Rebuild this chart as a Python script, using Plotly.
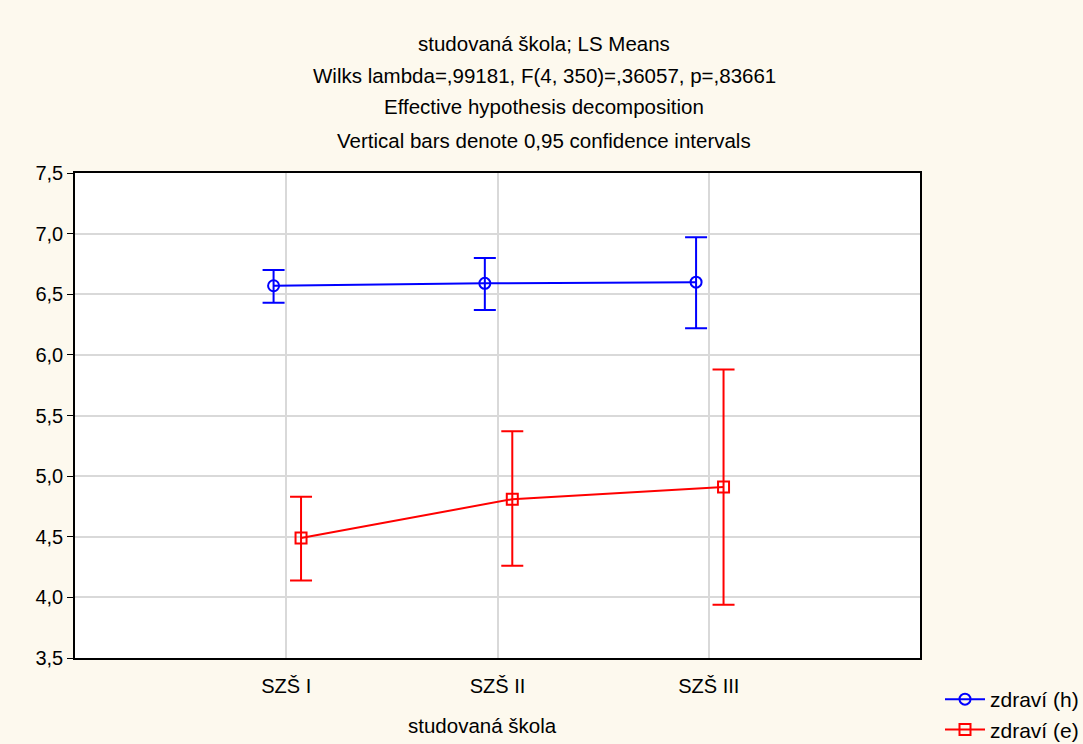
import plotly.graph_objects as go

categories = ["SZŠ I", "SZŠ II", "SZŠ III"]
h_mean = [6.57, 6.59, 6.60]
h_upper = [6.70, 6.80, 6.97]
h_lower = [6.43, 6.37, 6.22]
e_mean = [4.49, 4.81, 4.91]
e_upper = [4.83, 5.37, 5.88]
e_lower = [4.14, 4.26, 3.94]
series_names = ["zdraví (h)", "zdraví (e)"]
title_lines = [
    "studovaná škola; LS Means",
    "Wilks lambda=,99181, F(4, 350)=,36057, p=,83661",
    "Effective hypothesis decomposition",
    "Vertical bars denote 0,95 confidence intervals",
]
x_title = "studovaná škola"

pos = list(range(len(categories)))
h_x = [p - 0.06 for p in pos]
e_x = [p + 0.07 for p in pos]

fig = go.Figure()
fig.add_trace(go.Scatter(
    x=h_x, y=h_mean, mode="lines+markers", name=series_names[0],
    line=dict(color="#0000FF", width=2),
    marker=dict(symbol="circle-open", size=11, color="#0000FF", line=dict(width=2)),
    error_y=dict(type="data", symmetric=False,
                 array=[u - m for u, m in zip(h_upper, h_mean)],
                 arrayminus=[m - l for m, l in zip(h_mean, h_lower)],
                 color="#0000FF", thickness=2, width=11),
))
fig.add_trace(go.Scatter(
    x=e_x, y=e_mean, mode="lines+markers", name=series_names[1],
    line=dict(color="#FF0000", width=2),
    marker=dict(symbol="square-open", size=11, color="#FF0000", line=dict(width=2)),
    error_y=dict(type="data", symmetric=False,
                 array=[u - m for u, m in zip(e_upper, e_mean)],
                 arrayminus=[m - l for m, l in zip(e_mean, e_lower)],
                 color="#FF0000", thickness=2, width=11),
))

annotations = []
title_y_px = [43, 75, 106, 140]
for txt, ypx in zip(title_lines, title_y_px):
    annotations.append(dict(
        text=txt, xref="paper", yref="paper",
        x=(544 - 75) / 845, y=(658 - ypx) / 485,
        xanchor="center", yanchor="middle", showarrow=False,
        font=dict(size=20.5, color="#000000"),
    ))
annotations.append(dict(
    text=x_title, xref="paper", yref="paper",
    x=(482 - 75) / 845, y=(658 - 725) / 485,
    xanchor="center", yanchor="middle", showarrow=False,
    font=dict(size=20.5, color="#000000"),
))

fig.update_layout(
    width=1083, height=744,
    margin=dict(l=75, r=163, t=173, b=86, autoexpand=False),
    paper_bgcolor="#FDF9EE",
    plot_bgcolor="#FFFFFF",
    separators=", ",
    font=dict(family="Liberation Sans, Arial, sans-serif", size=20, color="#000000"),
    annotations=annotations,
    showlegend=True,
    legend=dict(x=(940 - 75) / 845, y=(658 - 679) / 485, xanchor="left", yanchor="top",
                bgcolor="rgba(0,0,0,0)", font=dict(size=21), tracegroupgap=0,
                itemwidth=40),
)
fig.update_xaxes(
    range=[-1, 3], tickvals=pos, ticktext=categories,
    showgrid=True, gridcolor="#D9D9D9", gridwidth=2,
    showline=True, linecolor="#000000", linewidth=1.5, mirror=True,
    ticks="", zeroline=False, tickfont=dict(size=20), ticklabelstandoff=9,
)
fig.update_yaxes(
    range=[3.5, 7.5], dtick=0.5, tickformat=".1f",
    showgrid=True, gridcolor="#D9D9D9", gridwidth=2,
    showline=True, linecolor="#000000", linewidth=1.5, mirror=True,
    ticks="outside", ticklen=6, tickcolor="#000000", zeroline=False,
    tickfont=dict(size=20),
)

fig.write_html("out.html")
